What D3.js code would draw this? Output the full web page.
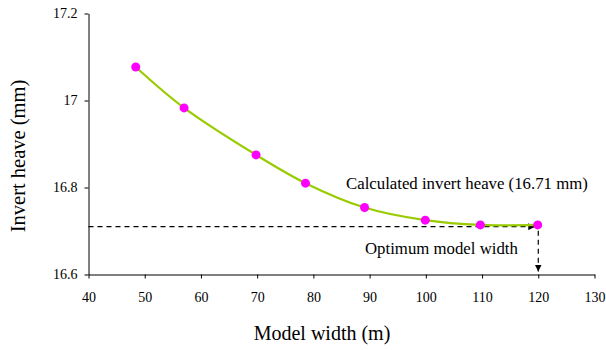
<!DOCTYPE html>
<html lang="en">
<head>
    <meta charset="UTF-8">
    <title>Invert heave vs model width</title>
    <script src="https://d3js.org/d3.v7.min.js"></script>
    <style>
        body { margin: 0; background: #fff; }
        svg text { font-family: "Liberation Serif", "Times New Roman", serif; fill: #000; }
        .axis path, .axis line { stroke: #000; }
    </style>
</head>
<body>
    <svg id="chart"></svg>

    <script>
        // data
        const modelWidth = [48.4, 57.0, 69.8, 78.6, 89.1, 99.9, 109.7, 119.9];
        const invertHeave = [17.077, 16.983, 16.875, 16.810, 16.754, 16.725, 16.714, 16.714];
        const xTicks = [40, 50, 60, 70, 80, 90, 100, 110, 120, 130];
        const yTicks = [16.6, 16.8, 17, 17.2];
        const optimumWidth = 120;
        const calculatedHeave = 16.71;

        const width = 606, height = 350;
        const plotLeft = 88.5, plotRight = 594.5, plotTop = 13.5, plotBottom = 274.5;
        const serif = "'Liberation Serif', 'Times New Roman', serif";

        const svg = d3.select("#chart")
                      .attr("width", width)
                      .attr("height", height);

        const x = d3.scaleLinear().domain([40, 130]).range([plotLeft, plotRight]);
        const y = d3.scaleLinear().domain([16.6, 17.2]).range([plotBottom, plotTop]);

        // arrowhead
        svg.append("defs").append("marker")
           .attr("id", "arrow")
           .attr("viewBox", "0 0 10 10")
           .attr("refX", 10).attr("refY", 5)
           .attr("markerWidth", 7).attr("markerHeight", 7)
           .attr("markerUnits", "userSpaceOnUse")
           .attr("orient", "auto")
           .append("path")
           .attr("d", "M0,0 L10,5 L0,10 z")
           .attr("fill", "#000");

        // axes
        svg.append("g")
           .attr("class", "axis")
           .attr("transform", `translate(0,${plotBottom})`)
           .call(d3.axisBottom(x).tickValues(xTicks).tickSizeInner(4).tickSizeOuter(0).tickPadding(14))
           .attr("font-family", serif)
           .attr("font-size", 14);

        svg.append("g")
           .attr("class", "axis")
           .attr("transform", `translate(${plotLeft},0)`)
           .call(d3.axisLeft(y).tickValues(yTicks).tickSizeInner(4).tickSizeOuter(0).tickPadding(7)
                   .tickFormat(d3.format("")))
           .attr("font-family", serif)
           .attr("font-size", 14);

        // reference dashed lines
        svg.append("line")
           .attr("x1", x(40)).attr("x2", x(optimumWidth) - 3)
           .attr("y1", y(calculatedHeave)).attr("y2", y(calculatedHeave))
           .attr("stroke", "#000").attr("stroke-width", 1.2)
           .attr("stroke-dasharray", "5,4")
           .attr("marker-end", "url(#arrow)");

        svg.append("line")
           .attr("x1", x(optimumWidth)).attr("x2", x(optimumWidth))
           .attr("y1", y(calculatedHeave) + 4).attr("y2", y(16.6) - 3)
           .attr("stroke", "#000").attr("stroke-width", 1.2)
           .attr("stroke-dasharray", "5,4")
           .attr("marker-end", "url(#arrow)");

        // curve
        const points = modelWidth.map((w, i) => [w, invertHeave[i]]);
        const line = d3.line()
                       .x(d => x(d[0]))
                       .y(d => y(d[1]))
                       .curve(d3.curveCatmullRom.alpha(0.5));

        svg.append("path")
           .datum(points)
           .attr("d", line)
           .attr("fill", "none")
           .attr("stroke", "#99cc00")
           .attr("stroke-width", 2.2);

        svg.selectAll(".dot")
           .data(points)
           .enter()
           .append("circle")
           .attr("class", "dot")
           .attr("cx", d => x(d[0]))
           .attr("cy", d => y(d[1]))
           .attr("r", 4.5)
           .attr("fill", "#ff00ff");

        // annotations
        svg.append("text")
           .attr("x", 346).attr("y", 189)
           .style("font-size", "16.8px")
           .text("Calculated invert heave (16.71 mm)");

        svg.append("text")
           .attr("x", 365).attr("y", 254)
           .style("font-size", "16.8px")
           .text("Optimum model width");

        // axis titles
        svg.append("text")
           .attr("x", 322).attr("y", 340)
           .attr("text-anchor", "middle")
           .style("font-size", "20px")
           .text("Model width (m)");

        svg.append("text")
           .attr("transform", "translate(25,156) rotate(-90)")
           .attr("text-anchor", "middle")
           .style("font-size", "20.5px")
           .text("Invert heave (mm)");
    </script>
</body>
</html>
